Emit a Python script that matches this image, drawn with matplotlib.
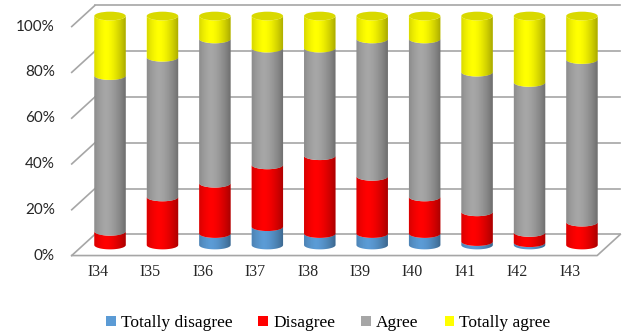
import numpy as np
import matplotlib.pyplot as plt
from matplotlib.patches import Polygon, Ellipse, Patch

items = ["I34", "I35", "I36", "I37", "I38", "I39", "I40", "I41", "I42", "I43"]
totally_disagree = [0, 0, 5, 8, 5, 5, 5, 1.5, 1, 0]
disagree = [6, 21, 22, 27, 34, 25, 16, 13, 4.5, 10]
agree = [68, 61, 63, 51, 47, 60, 69, 61, 65.5, 71]
totally_agree = [26, 18, 10, 14, 14, 10, 10, 24.5, 29, 19]

series = [totally_disagree, disagree, agree, totally_agree]
names = ["Totally disagree", "Disagree", "Agree", "Totally agree"]
colors = ["#5b9bd5", "#ff0000", "#a6a6a6", "#ffff00"]
cap_color = "#d9d900"
ticks = [0, 20, 40, 60, 80, 100]

# fake 3D: depth offset of the back wall / front edge from the bar plane
dx, dy = 0.22, 4.6
x_left, x_right = -0.29, 9.73
bar_w = 0.6
ell_h = 3.8

fig = plt.figure(figsize=(6.23, 3.35), dpi=100)
ax = fig.add_axes([0, 0, 1, 1])
ax.axis("off")

grid_c = "#a6a6a6"
for v in ticks:
    ax.plot([x_left, x_right], [v + dy, v + dy], color=grid_c, lw=1.2, zorder=1)
    ax.plot([x_left - 2 * dx, x_left], [v - dy, v + dy], color=grid_c, lw=1.2, zorder=1)
    ax.text(x_left - 2 * dx - 0.32, v - dy, f"{v}%", ha="right", va="center",
            fontsize=11, family="Lato", color="#262626")
# floor
ax.plot([x_left - 2 * dx, x_right - 2 * dx, x_right], [-dy, -dy, dy],
        color=grid_c, lw=1.2, zorder=1)


def lower_arc(xc, y0, left_to_right=True):
    th = np.linspace(np.pi, 0, 40) if left_to_right else np.linspace(0, np.pi, 40)
    return np.column_stack([xc + bar_w / 2 * np.cos(th), y0 - ell_h / 2 * np.sin(th)])


def band(xc, b, t):
    return np.vstack([lower_arc(xc, b), lower_arc(xc, t, False)])


# horizontal shading across each cylinder
u = np.linspace(0, 1, 64)
shade = np.zeros((1, 64, 4))
shade[0, :, 3] = 0.34 * (np.abs(u - 0.38) / 0.62) ** 1.6

for i, name in enumerate(items):
    bottom = 0
    for vals, c in zip(series, colors):
        h = vals[i]
        if h > 0:
            ax.add_patch(Polygon(band(i, bottom, bottom + h), closed=True,
                                 facecolor=c, edgecolor="none", zorder=2))
        bottom += h
    clip = Polygon(band(i, 0, bottom), closed=True, facecolor="none", edgecolor="none")
    ax.add_patch(clip)
    im = ax.imshow(shade, extent=[i - bar_w / 2, i + bar_w / 2, -ell_h, bottom],
                   aspect="auto", zorder=3, interpolation="bilinear")
    im.set_clip_path(clip)
    ax.add_patch(Ellipse((i, bottom), bar_w, ell_h, facecolor=cap_color,
                         edgecolor="none", zorder=4))
    ax.text(i - 0.23, -12, name, ha="center", va="center", fontsize=11.5,
            family="Liberation Serif", color="#262626")

ax.set_xlim(-2.098, 9.783)
ax.set_ylim(-39.3, 107.0)

handles = [Patch(facecolor=c, edgecolor="none") for c in colors]
fig.legend(handles, names, loc="center", bbox_to_anchor=(0.527, 0.036), ncol=4,
           frameon=False, handlelength=0.55, handleheight=0.55, handletextpad=0.3,
           columnspacing=1.5, prop={"family": "Liberation Serif", "size": 12.5})

fig.savefig("out.png", dpi=100)
